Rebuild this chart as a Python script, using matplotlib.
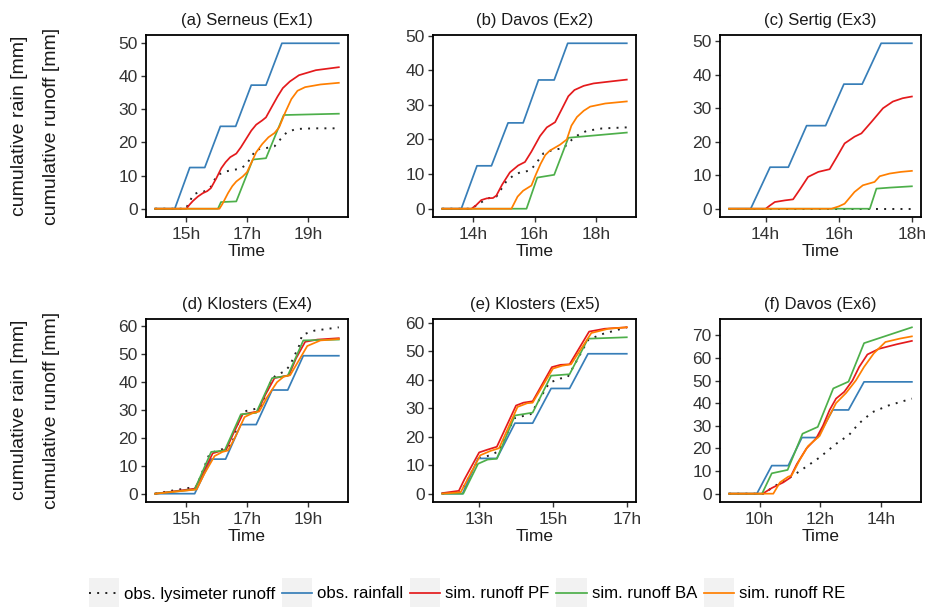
import matplotlib
matplotlib.use("Agg")
import matplotlib.pyplot as plt
from matplotlib.legend_handler import HandlerLine2D
from matplotlib.patches import Rectangle

plt.rcParams['font.family'] = ['Liberation Sans', 'DejaVu Sans']

# values: (hour, mm)
# (a) Serneus (Ex1)
a_obs = [(14, 0), (15.0, 0), (15.13, 2.2), (15.24, 4.2), (15.4, 4.9), (15.6, 5.2), (15.83, 6.7), (15.94, 8.7),
         (16.05, 10.2), (16.3, 11.2), (16.55, 11.7), (16.77, 12), (16.97, 13.2), (17.19, 16.3), (17.3, 17.8),
         (17.6, 18.2), (17.9, 18.8), (18.1, 21), (18.3, 23), (18.6, 24), (19.2, 24.2), (20, 24.2)]
a_rain = [(14, 0), (14.64, 0), (15.13, 12.4), (15.62, 12.4), (16.13, 24.8), (16.63, 24.8), (17.14, 37.2),
          (17.62, 37.2), (18.14, 49.8), (20, 49.8)]
a_pf = [(14, 0), (15.02, 0), (15.12, 1.2), (15.24, 2.4), (15.4, 3.7), (15.56, 4.7), (15.7, 5.3), (15.82, 6.2),
        (16.0, 9.2), (16.16, 12.2), (16.3, 14), (16.45, 15.5), (16.65, 16.6), (16.8, 18.5), (16.97, 21),
        (17.14, 23.5), (17.3, 25.3), (17.5, 26.6), (17.62, 27.5), (17.8, 30.5), (18.0, 33.8), (18.17, 36.3),
        (18.4, 38.3), (18.7, 40.2), (19.25, 41.7), (20, 42.6)]
a_ba = [(14, 0), (16.05, 0), (16.15, 2.0), (16.65, 2.2), (17.19, 14.8), (17.62, 15.2), (18.2, 28.2), (20, 28.6)]
a_re = [(14, 0), (16.1, 0), (16.2, 1.5), (16.38, 4.7), (16.52, 6.8), (16.65, 8.2), (16.86, 9.7), (17.0, 11),
        (17.1, 13), (17.3, 17), (17.5, 19.5), (17.7, 21.5), (17.9, 22.8), (18.05, 24.5), (18.25, 29),
        (18.45, 33), (18.65, 35.5), (18.9, 36.6), (19.4, 37.4), (20, 37.9)]

# (b) Davos (Ex2)
b_obs = [(13, 0), (13.95, 0), (14.2, 1.5), (14.49, 3), (14.76, 3.5), (15.09, 8), (15.3, 9.5), (15.53, 10.5),
         (15.85, 11), (16.0, 12.5), (16.29, 16), (16.6, 17), (16.94, 17.5), (17.22, 20), (17.45, 21.5),
         (17.7, 22.5), (18.2, 23.2), (19, 23.5)]
b_rain = [(13, 0), (13.62, 0), (14.13, 12.4), (14.6, 12.4), (15.14, 24.8), (15.63, 24.8), (16.13, 37.2),
          (16.64, 37.2), (17.08, 47.8), (19, 47.8)]
b_pf = [(13, 0), (13.95, 0), (14.1, 1), (14.27, 2.5), (14.45, 3), (14.65, 3.1), (14.76, 3.8), (14.95, 7),
        (15.2, 10.5), (15.47, 12.5), (15.69, 13.5), (15.9, 16.5), (16.18, 21), (16.4, 23.5), (16.67, 25),
        (16.9, 29), (17.1, 32.5), (17.3, 34.3), (17.6, 35.5), (17.92, 36.2), (18.5, 36.8), (19, 37.3)]
b_ba = [(13, 0), (15.74, 0), (16.09, 9), (16.64, 9.8), (17.1, 20.5), (19, 22)]
b_re = [(13, 0), (15.25, 0), (15.45, 3.5), (15.63, 5.2), (15.9, 6.7), (16.05, 10), (16.2, 13), (16.35, 15.5),
        (16.5, 16.8), (16.83, 18.5), (17.05, 20), (17.2, 24), (17.38, 26.5), (17.6, 28.3), (17.81, 29.5),
        (18.3, 30.4), (19, 31)]

# (c) Sertig (Ex3)
c_obs = [(13, 0), (18, 0)]
c_rain = [(13, 0), (13.59, 0), (14.12, 12.4), (14.62, 12.4), (15.12, 24.8), (15.64, 24.8), (16.14, 37.2),
          (16.64, 37.2), (17.16, 49.4), (18, 49.4)]
c_pf = [(13, 0), (14.0, 0), (14.12, 1), (14.25, 2), (14.53, 2.5), (14.75, 2.8), (14.95, 6), (15.16, 9.5),
        (15.44, 11), (15.75, 11.8), (15.95, 15.5), (16.16, 19.5), (16.43, 21.5), (16.62, 22.5), (16.9, 26),
        (17.21, 30), (17.48, 32), (17.75, 33), (18, 33.5)]
c_ba = [(13, 0), (16.85, 0), (17.03, 6), (17.39, 6.3), (18, 6.7)]
c_re = [(13, 0), (15.8, 0), (16.0, 0.7), (16.16, 1.5), (16.43, 5), (16.66, 7), (16.98, 8), (17.12, 9.7),
        (17.39, 10.5), (17.7, 11), (18, 11.3)]

# (d) Klosters (Ex4)
d_obs = [(14, 0), (14.5, 1), (15.35, 2.5), (15.78, 14.5), (16.2, 16), (16.5, 17.5), (16.75, 27), (16.9, 29.5),
         (17.3, 30.5), (17.45, 31), (17.8, 41), (17.95, 42.5), (18.25, 44), (18.4, 46), (18.7, 53),
         (18.8, 57), (19.2, 58.5), (20, 59.7)]
d_rain = [(14, 0), (15.29, 0), (15.83, 12.4), (16.3, 12.4), (16.8, 24.8), (17.3, 24.8), (17.82, 37.2),
          (18.33, 37.2), (18.84, 49.5), (20, 49.5)]
d_pf = [(14, 0), (15.29, 1.8), (15.5, 6), (15.88, 14.5), (16.1, 15.2), (16.32, 15.8), (16.55, 21.5),
        (16.86, 28.5), (17.1, 29), (17.35, 29.5), (17.6, 35.5), (17.9, 41.5), (18.15, 42), (18.37, 42.5),
        (18.6, 48.5), (18.9, 54.5), (19.3, 55.3), (20, 55.8)]
d_ba = [(14, 0), (15.29, 1.5), (15.83, 15), (16.27, 15.5), (16.8, 28.5), (17.3, 29), (17.82, 41.5),
        (18.33, 42.3), (18.84, 55), (20, 55.3)]
d_re = [(14, 0), (15.35, 1.5), (15.6, 7), (15.94, 13.5), (16.2, 15), (16.38, 15.5), (16.6, 20), (16.92, 27.5),
        (17.2, 29), (17.4, 29.5), (17.65, 34.5), (17.98, 40), (18.2, 42), (18.41, 42.5), (18.65, 47),
        (18.97, 53), (19.4, 55), (20, 55.5)]

# (e) Klosters (Ex5)
e_obs = [(12, 0), (12.5, 0.5), (13.0, 12.5), (13.3, 13.5), (13.54, 15), (13.95, 26.5), (14.4, 28), (14.9, 39),
         (15.2, 40.5), (15.4, 41), (15.95, 54), (16.3, 56), (17, 58.5)]
e_rain = [(12, 0), (12.55, 0), (12.97, 12.4), (13.48, 12.4), (13.97, 24.8), (14.45, 24.8), (14.95, 37),
          (15.45, 37), (15.95, 49.2), (17, 49.2)]
e_pf = [(12, 0.2), (12.45, 1), (12.6, 5), (13.0, 14.5), (13.23, 15.5), (13.48, 16.5), (14.0, 31), (14.2, 32),
        (14.45, 32.5), (14.97, 44.5), (15.2, 45.3), (15.45, 45.5), (15.98, 57), (16.4, 58), (17, 58.5)]
e_ba = [(12, 0), (12.57, 0), (12.97, 10.5), (13.23, 12), (13.48, 12.3), (13.97, 27.5), (14.45, 28.5),
        (14.95, 41.5), (15.45, 42), (15.95, 54.5), (17, 55)]
e_re = [(12, 0), (12.5, 0.5), (13.03, 13.5), (13.3, 15), (13.54, 16), (14.04, 30.5), (14.3, 31.8), (14.45, 32),
        (15.0, 44), (15.25, 45), (15.49, 45.5), (16.04, 56.5), (16.5, 58), (17, 58.5)]

# (f) Davos (Ex6)
f_obs = [(9, 0), (10.13, 0), (10.45, 3), (11.1, 8), (11.54, 12), (11.97, 16), (12.51, 22), (12.94, 26),
         (13.26, 31), (13.7, 36), (14.24, 39), (15, 42)]
f_rain = [(9, 0), (9.91, 0), (10.4, 12.4), (10.94, 12.4), (11.39, 24.8), (11.91, 24.8), (12.4, 37),
          (12.92, 37), (13.43, 49.4), (15, 49.4)]
f_pf = [(9, 0), (10.1, 0), (10.4, 2.5), (10.78, 5), (11.0, 7), (11.22, 13), (11.54, 20), (11.86, 24.5),
        (12.08, 30), (12.3, 37), (12.51, 42), (12.78, 45), (13.05, 50), (13.27, 56), (13.54, 61.5),
        (13.92, 64), (14.5, 66), (15, 67.5)]
f_ba = [(9, 0), (10.08, 0), (10.4, 9), (10.92, 10.5), (11.41, 26.5), (11.91, 29.5), (12.42, 46.5),
        (12.92, 49.5), (13.43, 66.5), (15, 73.5)]
f_re = [(9, 0), (10.45, 0), (10.67, 5), (10.94, 7.5), (11.05, 8), (11.32, 15), (11.59, 21), (11.97, 25.5),
        (12.24, 33), (12.51, 40), (12.84, 44.5), (13.16, 50), (13.43, 56), (13.75, 62), (14.13, 67),
        (14.6, 68.5), (15, 69.5)]

titles = ['(a) Serneus (Ex1)', '(b) Davos (Ex2)', '(c) Sertig (Ex3)',
          '(d) Klosters (Ex4)', '(e) Klosters (Ex5)', '(f) Davos (Ex6)']
xticks = [[15, 17, 19], [14, 16, 18], [14, 16, 18], [15, 17, 19], [13, 15, 17], [10, 12, 14]]
yticks = [range(0, 51, 10), range(0, 51, 10), range(0, 51, 10),
          range(0, 61, 10), range(0, 61, 10), range(0, 71, 10)]
panels = [
    (a_obs, a_rain, a_pf, a_ba, a_re),
    (b_obs, b_rain, b_pf, b_ba, b_re),
    (c_obs, c_rain, c_pf, c_ba, c_re),
    (d_obs, d_rain, d_pf, d_ba, d_re),
    (e_obs, e_rain, e_pf, e_ba, e_re),
    (f_obs, f_rain, f_pf, f_ba, f_re),
]
labels = ['obs. lysimeter runoff', 'obs. rainfall', 'sim. runoff PF', 'sim. runoff BA', 'sim. runoff RE']
colors = ['#222222', '#377EB8', '#E41A1C', '#4DAF4A', '#FF7F00']
styles = [(0, (1, 3.2)), '-', '-', '-', '-']


class BoxedLine(HandlerLine2D):
    # grey key background like ggplot legends
    def create_artists(self, legend, orig_handle, xdescent, ydescent, width, height, fontsize, trans):
        bh = 21
        rect = Rectangle((-xdescent, -ydescent + height / 2 - bh / 2), width, bh,
                         facecolor='#f2f2f2', edgecolor='none', transform=trans)
        arts = super().create_artists(legend, orig_handle, xdescent, ydescent, width, height, fontsize, trans)
        return [rect] + list(arts)


W, H = 929, 610
fig = plt.figure(figsize=(W / 100, H / 100), dpi=100)

lefts = [146, 433, 720]
widths = [202, 203, 201]
tops = [35, 319]
bottoms = [217, 502]

handles = None
for i in range(6):
    r, c = divmod(i, 3)
    ax = fig.add_axes([lefts[c] / W, 1 - bottoms[r] / H, widths[c] / W, (bottoms[r] - tops[r]) / H])
    lines = []
    for series, col, ls in zip(panels[i], colors, styles):
        t, v = zip(*series)
        ln, = ax.plot(t, v, color=col, linestyle=ls, lw=1.4 if ls != '-' else 1.25)
        lines.append(ln)
    if handles is None:
        handles = lines
    allt = [p[0] for s in panels[i] for p in s]
    allv = [p[1] for s in panels[i] for p in s]
    tx = (max(allt) - min(allt)) * 0.05
    vy = (max(allv) - min(allv)) * 0.05
    ax.set_xlim(min(allt) - tx, max(allt) + tx)
    ax.set_ylim(min(allv) - vy, max(allv) + vy)
    ax.set_xticks(xticks[i])
    ax.set_xticklabels(['%dh' % h for h in xticks[i]])
    ax.set_yticks(list(yticks[i]))
    ax.tick_params(direction='out', length=3.5, width=1, color='#333333', labelcolor='#333333',
                   labelsize=12.5, pad=2.5)
    ax.tick_params(axis='x', pad=4)
    for sp in ax.spines.values():
        sp.set_linewidth(1.3)
        sp.set_color('black')
    ax.set_title(titles[i], fontsize=12, pad=7, color='#1a1a1a')
    ax.set_xlabel('Time', fontsize=12.5, labelpad=1, color='#1a1a1a')

for yc in [126, 410]:
    fig.text(20 / W, 1 - yc / H, 'cumulative rain [mm]', rotation=90, fontsize=14,
             ha='center', va='center', color='#1a1a1a')
    fig.text(52 / W, 1 - yc / H, 'cumulative runoff [mm]', rotation=90, fontsize=14,
             ha='center', va='center', color='#1a1a1a')

fig.legend(handles, labels, loc='center', bbox_to_anchor=(467 / W, 1 - 594 / H), ncol=5,
           frameon=False, fontsize=12.1, handlelength=1.8, handletextpad=0.3, columnspacing=0.4,
           handler_map={h: BoxedLine() for h in handles})

fig.savefig('out.png', dpi=100)
